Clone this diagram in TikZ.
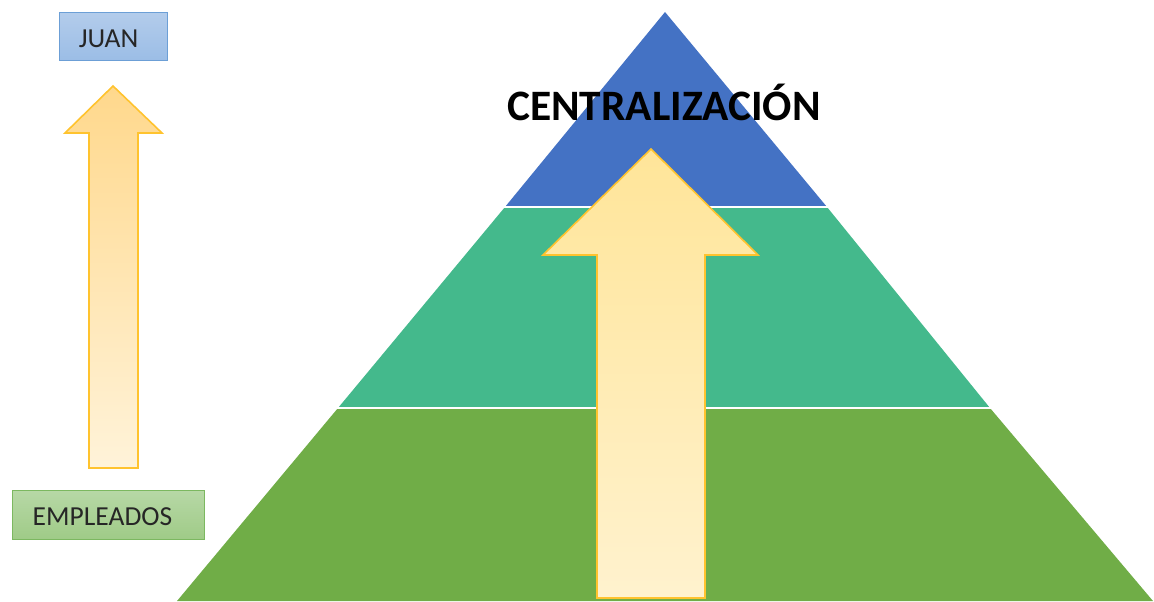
\documentclass[tikz,border=0pt]{standalone}
\usepackage{fontspec}
\setmainfont{Carlito}
\definecolor{pyblue}{HTML}{4472C4}
\definecolor{pyteal}{HTML}{44B98C}
\definecolor{pygreen}{HTML}{70AD47}
\definecolor{arrborder}{HTML}{FFC32E}
\definecolor{bigtop}{HTML}{FFE599}
\definecolor{bigbot}{HTML}{FFF2CE}
\definecolor{smalltop}{HTML}{FFD88C}
\definecolor{smallbot}{HTML}{FFF3D9}
\definecolor{juantop}{HTML}{B3CCEB}
\definecolor{juanbot}{HTML}{9BBDE6}
\definecolor{juanline}{HTML}{6C9FD6}
\definecolor{emptop}{HTML}{B7D8A6}
\definecolor{empbot}{HTML}{9FCB87}
\definecolor{empline}{HTML}{7CB860}
\tikzset{
  sep/.style={draw=white,line width=1.6pt},
  label box/.style={draw,line width=1pt,minimum height=48pt,inner sep=0pt,text depth=0pt,font=\fontsize{27.5}{30}\selectfont,text=black!85},
  blockarrow/.style={draw=arrborder,line width=1.6pt,line join=miter},
}
\begin{document}
\begin{tikzpicture}[x=1pt,y=-1pt]
\useasboundingbox (0,0) rectangle (1154,602);
% pyramid
\fill[pygreen] (338,408) -- (990,408) -- (1153,601) -- (177,601) -- cycle;
\fill[pyteal] (505,207) -- (827,207) -- (990,408) -- (338,408) -- cycle;
\fill[pyblue] (665,12) -- (827,207) -- (505,207) -- cycle;
\draw[sep] (503,207) -- (829,207);
\draw[sep] (336,408) -- (992,408);
\node[font=\fontsize{43.4}{48}\selectfont\bfseries,text=black,anchor=base] (title) at (664,120) {CENTRALIZACIÓN};
% big arrow
\shade[top color=bigtop, bottom color=bigbot]
  (651,149) -- (758,255) -- (705,255) -- (705,598) -- (597,598) -- (597,255) -- (543,255) -- cycle;
\draw[blockarrow] (651,149) -- (758,255) -- (705,255) -- (705,598) -- (597,598) -- (597,255) -- (543,255) -- cycle;
% left arrow
\shade[top color=smalltop, bottom color=smallbot]
  (113,86) -- (162,133) -- (138,133) -- (138,468) -- (89,468) -- (89,133) -- (65,133) -- cycle;
\draw[blockarrow] (113,86) -- (162,133) -- (138,133) -- (138,468) -- (89,468) -- (89,133) -- (65,133) -- cycle;
% labels
\node[label box,draw=juanline,top color=juantop,bottom color=juanbot,minimum width=108pt,text height=23pt] (juan) at (113.5,36.5) {JUAN\hspace*{10pt}};
\node[label box,draw=empline,top color=emptop,bottom color=empbot,minimum width=192pt,minimum height=49pt,text height=20pt] (emp) at (108.5,515) {EMPLEADOS\hspace*{12pt}};
\end{tikzpicture}
\end{document}
